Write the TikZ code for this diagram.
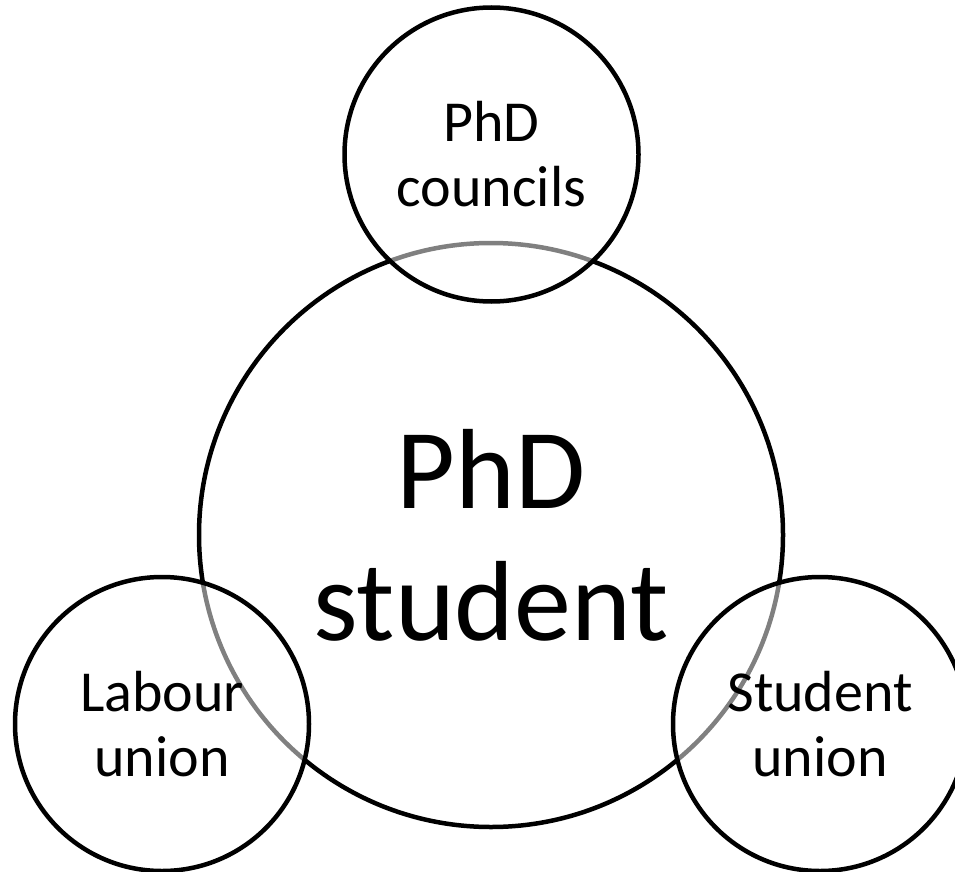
\documentclass[tikz,border=0pt]{standalone}
\usepackage{fontspec}
\setmainfont{Carlito}
\begin{document}
\begin{tikzpicture}[x=1pt,y=-1pt,
		ring/.style={circle, draw, line width=4.5pt, inner sep=0pt, align=center},
		smallring/.style={ring, minimum size=294pt, fill=white, fill opacity=0.5, text opacity=1, font=\fontsize{58}{65}\selectfont},
		bigring/.style={ring, minimum size=584pt, font=\fontsize{114}{132}\selectfont}]
	\useasboundingbox (0,0) rectangle (955,872);
	\node[bigring] (student) at (491,535) {PhD\\student};
	\node[smallring] (councils) at (491.5,154.5) {PhD\\councils};
	\node[smallring] (labour) at (162,724) {Labour\\union};
	\node[smallring] (union) at (820,724) {Student\\union};
\end{tikzpicture}
\end{document}
